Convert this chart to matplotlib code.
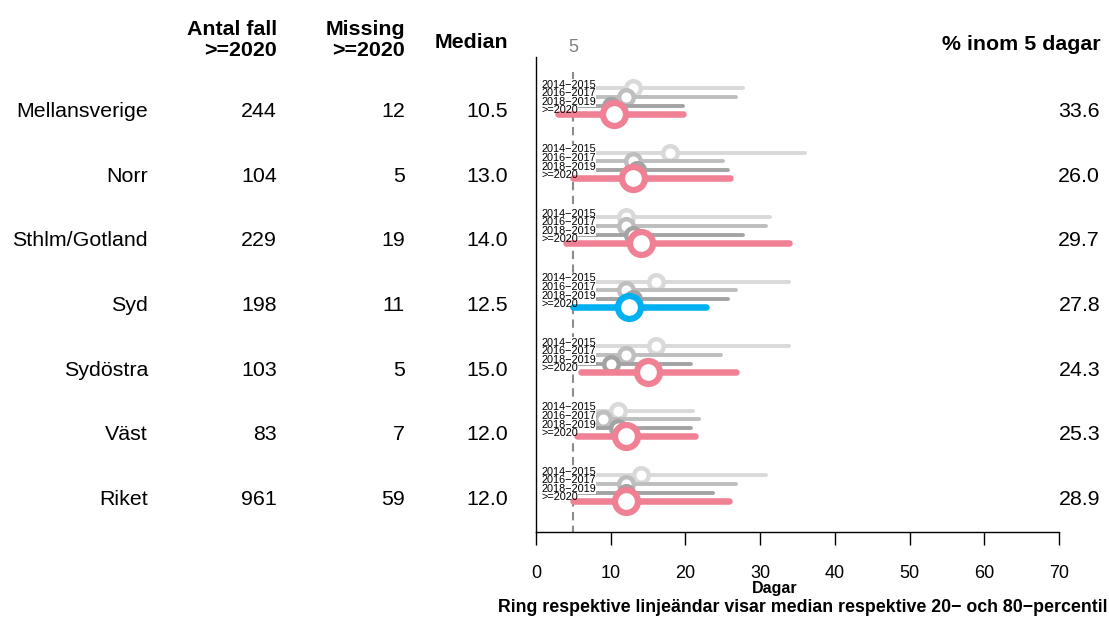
import matplotlib
matplotlib.use('Agg')
import matplotlib.pyplot as plt
import matplotlib.transforms as mtransforms

plt.rcParams['font.family'] = ['Liberation Sans', 'DejaVu Sans']

# ---------------- data ----------------
regions = ['Mellansverige', 'Norr', 'Sthlm/Gotland', 'Syd', 'Sydöstra', 'Väst', 'Riket']
antal_fall = [244, 104, 229, 198, 103, 83, 961]
missing = [12, 5, 19, 11, 5, 7, 59]
median_2020 = [10.5, 13.0, 14.0, 12.5, 15.0, 12.0, 12.0]
pct_inom5 = [33.6, 26.0, 29.7, 27.8, 24.3, 25.3, 28.9]

periods = ['2014\u22122015', '2016\u22122017', '2018\u22122019', '>=2020']

med_1415 = [13, 18, 12, 16, 16, 11, 14]
med_1617 = [12, 13, 12, 12, 12, 9, 12]
med_1819 = [10, 13.5, 13, 13, 10, 11, 12]

p20_1415 = [5, 6, 4, 5, 5, 4, 5]
p20_1617 = [4, 5, 4, 4, 4, 3, 4]
p20_1819 = [3, 5, 4, 4, 3, 4, 4]
p20_2020 = [3, 5, 4, 5, 6, 5.5, 5]

p80_1415 = [27.7, 36.0, 31.3, 33.8, 33.8, 21.0, 30.8]
p80_1617 = [26.8, 25.0, 30.8, 26.8, 24.8, 21.8, 26.8]
p80_1819 = [19.7, 25.7, 27.7, 25.7, 20.8, 20.8, 23.7]
p80_2020 = [19.7, 26.0, 33.8, 22.8, 26.8, 21.3, 25.8]

highlight_region = 'Syd'

# ---------------- styling ----------------
W, H = 1109, 617
grey_cols = ['#D9D9D9', '#BEBEBE', '#A3A3A3']
pink = '#F08094'
blue = '#00B0F0'

fig = plt.figure(figsize=(W / 100, H / 100), dpi=100)
ax = fig.add_axes([536 / W, 1 - 532 / H, 523 / W, 475 / H])
ax.set_xlim(0, 70)
row_px0, row_step = 112, 64.5
ax.set_ylim((532 - row_px0) / row_step, (57 - row_px0) / row_step)

offsets = [-0.365, -0.235, -0.10, 0.03]
meds = [med_1415, med_1617, med_1819, median_2020]
p20s = [p20_1415, p20_1617, p20_1819, p20_2020]
p80s = [p80_1415, p80_1617, p80_1819, p80_2020]

# reference dashed line at 5 days
ax.plot([5, 5], [(72 - row_px0) / row_step, ax.get_ylim()[0]], color='#8C8C8C',
        lw=1.5, ls=(0, (4, 2.6)), zorder=1, clip_on=False)
ax.text(5, (48 - row_px0) / row_step, '5', color='#808080', fontsize=13,
        ha='center', va='center', clip_on=False)

for i, reg in enumerate(regions):
    for k in range(4):
        y = i + offsets[k]
        if k < 3:
            col = grey_cols[k]
            ax.plot([p20s[k][i], p80s[k][i]], [y, y], color=col, lw=2.8,
                    solid_capstyle='round', zorder=2 + 0.01 * k, clip_on=False)
            ax.plot([meds[k][i]], [y], marker='o', ms=10.5, mew=3.2, mfc='white',
                    mec=col, ls='none', zorder=2 + 0.01 * k + 0.005, clip_on=False)
        else:
            col = blue if reg == highlight_region else pink
            ax.plot([p20s[k][i], p80s[k][i]], [y, y], color=col, lw=4.7,
                    solid_capstyle='round', zorder=4, clip_on=False)
            ax.plot([meds[k][i]], [y], marker='o', ms=16.5, mew=4.5, mfc='white',
                    mec=col, ls='none', zorder=4.5, clip_on=False)
        # white backing box for label
        ax.text(0.67, y - 0.055, periods[k], fontsize=7.8, ha='left', va='center',
                color='none', zorder=3,
                bbox=dict(facecolor='white', edgecolor='none', pad=0.3))
        ax.text(0.67, y - 0.055, periods[k], fontsize=7.8, ha='left', va='center',
                color='black', zorder=5)

# axes styling
for s in ['top', 'right']:
    ax.spines[s].set_visible(False)
ax.spines['left'].set_linewidth(1.0)
ax.spines['bottom'].set_linewidth(1.0)
ax.set_yticks([])
ax.set_xticks([0, 10, 20, 30, 40, 50, 60, 70])
ax.tick_params(axis='x', length=9, width=1, pad=15, labelsize=13)

# row texts
tr = mtransforms.blended_transform_factory(fig.transFigure, ax.transData)
fs = 15.4
for i, reg in enumerate(regions):
    ax.text(148 / W, i, reg, transform=tr, ha='right', va='center', fontsize=fs)
    ax.text(277 / W, i, f'{antal_fall[i]}', transform=tr, ha='right', va='center', fontsize=fs)
    ax.text(405 / W, i, f'{missing[i]}', transform=tr, ha='right', va='center', fontsize=fs)
    ax.text(508 / W, i, f'{median_2020[i]:.1f}', transform=tr, ha='right', va='center', fontsize=fs)
    ax.text(1100 / W, i, f'{pct_inom5[i]:.1f}', transform=tr, ha='right', va='center', fontsize=fs)

# headers
fig.text(277 / W, 1 - 40 / H, 'Antal fall\n>=2020', ha='right', va='center',
         fontsize=fs, fontweight='bold', linespacing=1.15, multialignment='right')
fig.text(405 / W, 1 - 40 / H, 'Missing\n>=2020', ha='right', va='center',
         fontsize=fs, fontweight='bold', linespacing=1.15, multialignment='right')
fig.text(508 / W, 1 - 43 / H, 'Median', ha='right', va='center',
         fontsize=fs, fontweight='bold')
fig.text(1101 / W, 1 - 45 / H, '% inom 5 dagar', ha='right', va='center',
         fontsize=fs, fontweight='bold')

fig.text(775 / W, 1 - 588 / H, 'Dagar', ha='center', va='center',
         fontsize=11.5, fontweight='bold')
fig.text(1107 / W, 1 - 607 / H,
         'Ring respektive linjeändar visar median respektive 20\u2212 och 80\u2212percentil',
         ha='right', va='center', fontsize=12.8, fontweight='bold')

fig.savefig('out.png', dpi=100)
